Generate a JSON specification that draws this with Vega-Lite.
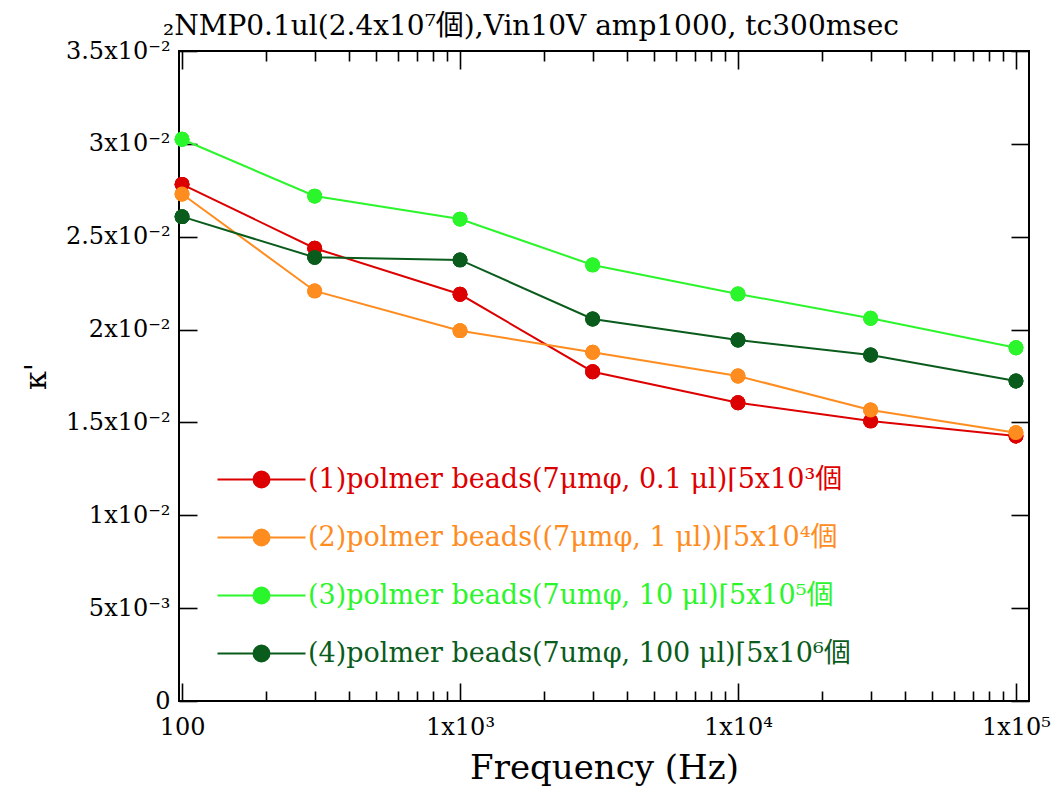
{
  "$schema": "https://vega.github.io/schema/vega-lite/v6.json",
  "width": 850,
  "height": 650,
  "autosize": "none",
  "padding": {"left": 179, "top": 51, "right": 31, "bottom": 89},
  "background": "white",
  "config": {
    "view": {"stroke": "black", "strokeWidth": 2},
    "font": "DejaVu Serif, Noto Sans CJK JP",
    "axis": {"grid": false, "domain": false, "ticks": true, "tickColor": "black", "tickWidth": 1.6, "labelColor": "black", "titleColor": "black", "labelFont": "DejaVu Serif, Noto Sans CJK JP", "titleFont": "DejaVu Serif, Noto Sans CJK JP", "titleFontWeight": "normal"}
  },
  "title": {
    "text": "₂NMP0.1ul(2.4x10⁷個),Vin10V amp1000, tc300msec",
    "anchor": "start",
    "frame": "group",
    "fontSize": 28,
    "fontWeight": "normal",
    "font": "DejaVu Serif, Noto Sans CJK JP",
    "color": "black",
    "dx": -16,
    "offset": -2
  },
  "data": {
    "values": [
      {"series": "(1)polmer beads(7μmφ, 0.1  μl)⌈5x10³個", "freq": 100, "k": 0.02782},
      {"series": "(1)polmer beads(7μmφ, 0.1  μl)⌈5x10³個", "freq": 300, "k": 0.02438},
      {"series": "(1)polmer beads(7μmφ, 0.1  μl)⌈5x10³個", "freq": 1000, "k": 0.02190},
      {"series": "(1)polmer beads(7μmφ, 0.1  μl)⌈5x10³個", "freq": 3000, "k": 0.01773},
      {"series": "(1)polmer beads(7μmφ, 0.1  μl)⌈5x10³個", "freq": 10000, "k": 0.01606},
      {"series": "(1)polmer beads(7μmφ, 0.1  μl)⌈5x10³個", "freq": 30000, "k": 0.01508},
      {"series": "(1)polmer beads(7μmφ, 0.1  μl)⌈5x10³個", "freq": 100000, "k": 0.01427},
      {"series": "(2)polmer beads((7μmφ, 1  μl))⌈5x10⁴個", "freq": 100, "k": 0.02730},
      {"series": "(2)polmer beads((7μmφ, 1  μl))⌈5x10⁴個", "freq": 300, "k": 0.02208},
      {"series": "(2)polmer beads((7μmφ, 1  μl))⌈5x10⁴個", "freq": 1000, "k": 0.01994},
      {"series": "(2)polmer beads((7μmφ, 1  μl))⌈5x10⁴個", "freq": 3000, "k": 0.01878},
      {"series": "(2)polmer beads((7μmφ, 1  μl))⌈5x10⁴個", "freq": 10000, "k": 0.01750},
      {"series": "(2)polmer beads((7μmφ, 1  μl))⌈5x10⁴個", "freq": 30000, "k": 0.01567},
      {"series": "(2)polmer beads((7μmφ, 1  μl))⌈5x10⁴個", "freq": 100000, "k": 0.01445},
      {"series": "(3)polmer beads(7umφ, 10  μl)⌈5x10⁵個", "freq": 100, "k": 0.03025},
      {"series": "(3)polmer beads(7umφ, 10  μl)⌈5x10⁵個", "freq": 300, "k": 0.02719},
      {"series": "(3)polmer beads(7umφ, 10  μl)⌈5x10⁵個", "freq": 1000, "k": 0.02595},
      {"series": "(3)polmer beads(7umφ, 10  μl)⌈5x10⁵個", "freq": 3000, "k": 0.02348},
      {"series": "(3)polmer beads(7umφ, 10  μl)⌈5x10⁵個", "freq": 10000, "k": 0.02192},
      {"series": "(3)polmer beads(7umφ, 10  μl)⌈5x10⁵個", "freq": 30000, "k": 0.02061},
      {"series": "(3)polmer beads(7umφ, 10  μl)⌈5x10⁵個", "freq": 100000, "k": 0.01902},
      {"series": "(4)polmer beads(7umφ, 100  μl)⌈5x10⁶個", "freq": 100, "k": 0.02608},
      {"series": "(4)polmer beads(7umφ, 100  μl)⌈5x10⁶個", "freq": 300, "k": 0.02389},
      {"series": "(4)polmer beads(7umφ, 100  μl)⌈5x10⁶個", "freq": 1000, "k": 0.02375},
      {"series": "(4)polmer beads(7umφ, 100  μl)⌈5x10⁶個", "freq": 3000, "k": 0.02057},
      {"series": "(4)polmer beads(7umφ, 100  μl)⌈5x10⁶個", "freq": 10000, "k": 0.01944},
      {"series": "(4)polmer beads(7umφ, 100  μl)⌈5x10⁶個", "freq": 30000, "k": 0.01863},
      {"series": "(4)polmer beads(7umφ, 100  μl)⌈5x10⁶個", "freq": 100000, "k": 0.01723}
    ]
  },
  "resolve": {"axis": {"x": "independent", "y": "independent"}},
  "layer": [
    {
      "mark": {"type": "line", "strokeWidth": 2},
      "encoding": {
        "x": {
          "field": "freq", "type": "quantitative",
          "scale": {"type": "log", "domain": [97.5, 111400], "nice": false, "zero": false},
          "axis": {
            "orient": "bottom",
            "values": [100, 1000, 10000, 100000],
            "labelExpr": "datum.value == 100 ? '100' : datum.value == 1000 ? '1x10³' : datum.value == 10000 ? '1x10⁴' : '1x10⁵'",
            "tickSize": -18,
            "labelFontSize": 24,
            "labelPadding": 32,
            "labelFlush": false,
            "labelOverlap": false,
            "title": "Frequency (Hz)",
            "titleFontSize": 34,
            "titlePadding": 12
          }
        },
        "y": {
          "field": "k", "type": "quantitative",
          "scale": {"domain": [0, 0.035], "nice": false, "zero": false},
          "axis": {
            "orient": "left",
            "values": [0, 0.005, 0.01, 0.015, 0.02, 0.025, 0.03, 0.035],
            "labelExpr": "datum.value < 0.0001 ? '0' : datum.value < 0.0075 ? '5x10⁻³' : format(datum.value*100, '.2~r') + 'x10⁻²'",
            "tickSize": -18,
            "labelFontSize": 24,
            "labelPadding": 27,
            "labelOverlap": false,
            "title": "κ'",
            "titleFontSize": 30,
            "titlePadding": 14
          }
        },
        "color": {
          "field": "series", "type": "nominal",
          "scale": {
            "domain": ["(1)polmer beads(7μmφ, 0.1  μl)⌈5x10³個", "(2)polmer beads((7μmφ, 1  μl))⌈5x10⁴個", "(3)polmer beads(7umφ, 10  μl)⌈5x10⁵個", "(4)polmer beads(7umφ, 100  μl)⌈5x10⁶個"],
            "range": ["#DD0000", "#FF8C1E", "#2BF52B", "#0A5C1C"]
          },
          "legend": {
            "orient": "none", "legendX": 69, "legendY": 415, "title": null,
            "symbolType": "M-5.5,0L5.5,0M1,0A1,1,0,1,1,-1,0A1,1,0,1,1,1,0Z",
            "symbolSize": 256, "symbolStrokeWidth": 2,
            "labelFontSize": 27, "labelFont": "DejaVu Serif, Noto Sans CJK JP",
            "labelLimit": 800, "labelOffset": 33, "rowPadding": 30, "padding": 0,
            "encode": {
              "labels": {"update": {"fill": {"scale": "color", "field": "value"}}},
              "symbols": {"update": {"fill": {"scale": "color", "field": "value"}, "stroke": {"scale": "color", "field": "value"}, "opacity": {"value": 1}}}
            }
          }
        }
      }
    },
    {
      "mark": {"type": "point", "filled": true, "opacity": 1, "size": 220, "shape": "circle"},
      "encoding": {
        "x": {
          "field": "freq", "type": "quantitative",
          "scale": {"type": "log", "domain": [97.5, 111400], "nice": false, "zero": false},
          "axis": {
            "orient": "bottom",
            "values": [200,300,400,500,600,700,800,900,2000,3000,4000,5000,6000,7000,8000,9000,20000,30000,40000,50000,60000,70000,80000,90000],
            "labels": false,
            "tickSize": -10,
            "title": null
          }
        },
        "y": {
          "field": "k", "type": "quantitative",
          "scale": {"domain": [0, 0.035], "nice": false, "zero": false},
          "axis": {
            "orient": "right",
            "values": [0, 0.005, 0.01, 0.015, 0.02, 0.025, 0.03, 0.035],
            "labels": false,
            "tickSize": -18,
            "title": null
          }
        },
        "color": {
          "field": "series", "type": "nominal",
          "scale": {
            "domain": ["(1)polmer beads(7μmφ, 0.1  μl)⌈5x10³個", "(2)polmer beads((7μmφ, 1  μl))⌈5x10⁴個", "(3)polmer beads(7umφ, 10  μl)⌈5x10⁵個", "(4)polmer beads(7umφ, 100  μl)⌈5x10⁶個"],
            "range": ["#DD0000", "#FF8C1E", "#2BF52B", "#0A5C1C"]
          },
          "legend": {
            "orient": "none", "legendX": 69, "legendY": 415, "title": null,
            "symbolType": "M-5.5,0L5.5,0M1,0A1,1,0,1,1,-1,0A1,1,0,1,1,1,0Z",
            "symbolSize": 256, "symbolStrokeWidth": 2,
            "labelFontSize": 27, "labelFont": "DejaVu Serif, Noto Sans CJK JP",
            "labelLimit": 800, "labelOffset": 33, "rowPadding": 30, "padding": 0,
            "encode": {
              "labels": {"update": {"fill": {"scale": "color", "field": "value"}}},
              "symbols": {"update": {"fill": {"scale": "color", "field": "value"}, "stroke": {"scale": "color", "field": "value"}, "opacity": {"value": 1}}}
            }
          }
        }
      }
    },
    {
      "mark": {"type": "point", "filled": true, "opacity": 1, "size": 220, "shape": "circle"},
      "encoding": {
        "x": {
          "field": "freq", "type": "quantitative",
          "scale": {"type": "log", "domain": [97.5, 111400], "nice": false, "zero": false},
          "axis": {
            "orient": "top",
            "values": [100, 1000, 10000, 100000],
            "labels": false,
            "tickSize": -18,
            "title": null
          }
        },
        "y": {
          "field": "k", "type": "quantitative",
          "scale": {"domain": [0, 0.035], "nice": false, "zero": false},
          "axis": null
        },
        "color": {
          "field": "series", "type": "nominal",
          "scale": {
            "domain": ["(1)polmer beads(7μmφ, 0.1  μl)⌈5x10³個", "(2)polmer beads((7μmφ, 1  μl))⌈5x10⁴個", "(3)polmer beads(7umφ, 10  μl)⌈5x10⁵個", "(4)polmer beads(7umφ, 100  μl)⌈5x10⁶個"],
            "range": ["#DD0000", "#FF8C1E", "#2BF52B", "#0A5C1C"]
          },
          "legend": {
            "orient": "none", "legendX": 69, "legendY": 415, "title": null,
            "symbolType": "M-5.5,0L5.5,0M1,0A1,1,0,1,1,-1,0A1,1,0,1,1,1,0Z",
            "symbolSize": 256, "symbolStrokeWidth": 2,
            "labelFontSize": 27, "labelFont": "DejaVu Serif, Noto Sans CJK JP",
            "labelLimit": 800, "labelOffset": 33, "rowPadding": 30, "padding": 0,
            "encode": {
              "labels": {"update": {"fill": {"scale": "color", "field": "value"}}},
              "symbols": {"update": {"fill": {"scale": "color", "field": "value"}, "stroke": {"scale": "color", "field": "value"}, "opacity": {"value": 1}}}
            }
          }
        }
      }
    },
    {
      "mark": {"type": "point", "filled": true, "opacity": 1, "size": 220, "shape": "circle"},
      "encoding": {
        "x": {
          "field": "freq", "type": "quantitative",
          "scale": {"type": "log", "domain": [97.5, 111400], "nice": false, "zero": false},
          "axis": {
            "orient": "top",
            "values": [200,300,400,500,600,700,800,900,2000,3000,4000,5000,6000,7000,8000,9000,20000,30000,40000,50000,60000,70000,80000,90000],
            "labels": false,
            "tickSize": -10,
            "title": null
          }
        },
        "y": {
          "field": "k", "type": "quantitative",
          "scale": {"domain": [0, 0.035], "nice": false, "zero": false},
          "axis": null
        },
        "color": {
          "field": "series", "type": "nominal",
          "scale": {
            "domain": ["(1)polmer beads(7μmφ, 0.1  μl)⌈5x10³個", "(2)polmer beads((7μmφ, 1  μl))⌈5x10⁴個", "(3)polmer beads(7umφ, 10  μl)⌈5x10⁵個", "(4)polmer beads(7umφ, 100  μl)⌈5x10⁶個"],
            "range": ["#DD0000", "#FF8C1E", "#2BF52B", "#0A5C1C"]
          },
          "legend": {
            "orient": "none", "legendX": 69, "legendY": 415, "title": null,
            "symbolType": "M-5.5,0L5.5,0M1,0A1,1,0,1,1,-1,0A1,1,0,1,1,1,0Z",
            "symbolSize": 256, "symbolStrokeWidth": 2,
            "labelFontSize": 27, "labelFont": "DejaVu Serif, Noto Sans CJK JP",
            "labelLimit": 800, "labelOffset": 33, "rowPadding": 30, "padding": 0,
            "encode": {
              "labels": {"update": {"fill": {"scale": "color", "field": "value"}}},
              "symbols": {"update": {"fill": {"scale": "color", "field": "value"}, "stroke": {"scale": "color", "field": "value"}, "opacity": {"value": 1}}}
            }
          }
        }
      }
    }
  ]
}
